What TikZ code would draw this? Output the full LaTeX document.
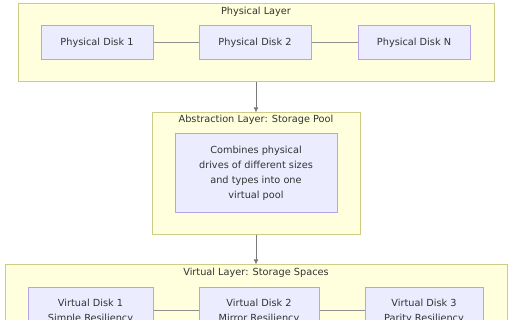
\documentclass[tikz,border=0pt]{standalone}
\usepackage{fontspec}
\setmainfont{DejaVu Sans}
\usepackage{xcolor}
\usetikzlibrary{arrows.meta, positioning}

\definecolor{clusterfill}{HTML}{FFFFDE}
\definecolor{clusterdraw}{HTML}{AAAA33}
\definecolor{nodefill}{HTML}{ECECFF}
\definecolor{nodedraw}{HTML}{9370DB}
\definecolor{linkcol}{HTML}{333333}
\definecolor{textcol}{HTML}{333333}

\tikzset{
  cluster/.style={draw=clusterdraw!60, fill=clusterfill, line width=1pt, inner sep=0pt},
  disk/.style={draw=nodedraw!65, fill=nodefill, line width=1pt, inner sep=0pt,
    text=textcol, align=center},
  title/.style={text=textcol, inner sep=0pt},
  link/.style={draw=linkcol!55, line width=1pt},
  flow/.style={draw=linkcol!65, line width=1pt, -{Latex[length=5pt, width=5pt]}}
}

\begin{document}
\begin{tikzpicture}[x=1pt, y=-1pt, font=\fontsize{9.75}{15}\selectfont]
  \useasboundingbox (0,0) rectangle (512,320);
  \begin{scope}
  \clip (0,0) rectangle (512,320);
  % Physical layer
  \node[cluster, minimum width=476pt, minimum height=78pt] (phys) at (256,43) {};
  \node[title] (physT) at (256,12) {Physical Layer};
  \node[disk, minimum width=112pt, minimum height=34pt] (pd1) at (97,43) {Physical Disk 1};
  \node[disk, minimum width=112pt, minimum height=34pt] (pd2) at (255,43) {Physical Disk 2};
  \node[disk, minimum width=112pt, minimum height=34pt] (pdn) at (414,43) {Physical Disk N};
  \draw[link] (pd1) -- (pd2);
  \draw[link] (pd2) -- (pdn);
  % Storage pool
  \node[cluster, minimum width=208pt, minimum height=122pt] (pool) at (256,174) {};
  \node[title] (poolT) at (256,120) {Abstraction Layer: Storage Pool};
  \node[disk, minimum width=162pt, minimum height=79pt] (poolD) at (256,173.5)
    {Combines physical\\drives of different sizes\\and types into one\\virtual pool};
  % Virtual layer
  \node[cluster, minimum width=502pt, minimum height=90pt] (virt) at (256,310) {};
  \node[title] (virtT) at (256,273) {Virtual Layer: Storage Spaces};
  \node[disk, minimum width=125pt, minimum height=46pt] (vd1) at (90.5,311)
    {Virtual Disk 1\\Simple Resiliency};
  \node[disk, minimum width=120pt, minimum height=46pt] (vd2) at (259,311)
    {Virtual Disk 2\\Mirror Resiliency};
  \node[disk, minimum width=118pt, minimum height=46pt] (vd3) at (424,311)
    {Virtual Disk 3\\Parity Resiliency};
  \draw[link] (vd1) -- (vd2);
  \draw[link] (vd2) -- (vd3);
  % Flow between layers
  \draw[flow] (phys) -- (pool);
  \draw[flow] (pool) -- (virt);
  \end{scope}
\end{tikzpicture}
\end{document}
